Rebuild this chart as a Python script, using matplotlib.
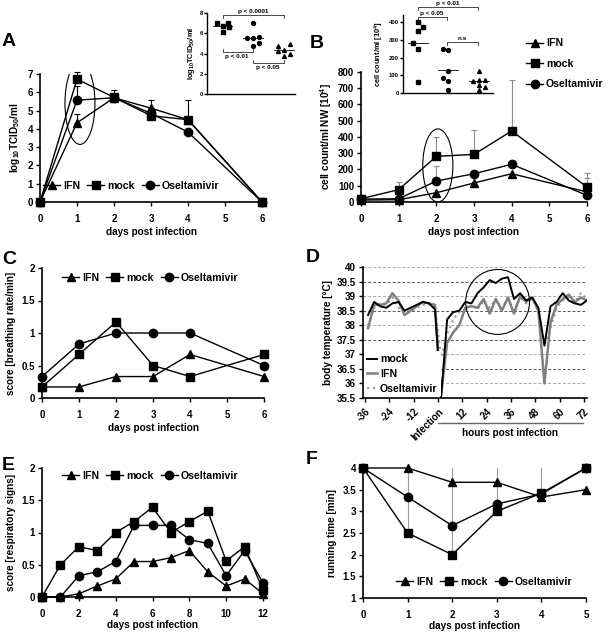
import numpy as np
import matplotlib
matplotlib.use('Agg')
import matplotlib.pyplot as plt
from matplotlib.patches import Ellipse
from matplotlib.lines import Line2D

plt.rcParams['font.family'] = ['Liberation Sans', 'DejaVu Sans']
plt.rcParams['font.weight'] = 'bold'
plt.rcParams['axes.labelweight'] = 'bold'
plt.rcParams['mathtext.fontset'] = 'custom'
plt.rcParams['mathtext.rm'] = 'Liberation Sans:bold'
plt.rcParams['mathtext.default'] = 'rm'

W, H = 608, 632

# ---- A: virus titer ----
days_a = [0, 1, 2, 3, 4, 6]
titer_ifn = [0, 4.33, 5.7, 5.13, 4.5, 0]
titer_mock = [0, 6.72, 5.72, 4.72, 4.5, 0]
titer_osel = [0, 5.57, 5.7, 4.85, 3.82, 0]
err_a_ifn = [0, 0.47, 0, 0.47, 0, 0]
err_a_mock = [0, 0.4, 0.4, 0, 1.07, 0]
err_a_osel = [0, 0.75, 0, 0, 0, 0]

# A inset: day 1 titers per animal
ins_a_mock = [7.0, 6.75, 7.0, 6.1, 6.6]
ins_a_mock_x = [0.33, 0.53, 0.72, 0.53, 0.74]
ins_a_osel = [7.0, 5.5, 5.5, 5.65, 5.0, 4.7]
ins_a_osel_x = [1.58, 1.35, 1.56, 1.78, 1.78, 1.58]
ins_a_ifn = [4.7, 4.97, 4.2, 4.37, 3.72, 3.98]
ins_a_ifn_x = [2.43, 2.83, 2.43, 2.62, 2.62, 2.83]
ins_a_med = [6.75, 5.55, 4.3]

# ---- B: cell counts ----
days_b = [0, 1, 2, 3, 4, 6]
cells_ifn = [12, 14, 57, 117, 174, 62]
cells_mock = [20, 76, 281, 293, 437, 92]
cells_osel = [18, 20, 129, 174, 232, 41]
err_b_ifn = [0, 0, 0, 0, 0, 88]
err_b_mock = [0, 47, 119, 152, 316, 88]
err_b_osel = [0, 0, 91, 0, 0, 0]

ins_b_mock = [400, 352, 372, 282, 248, 60]
ins_b_mock_x = [0.51, 0.51, 0.68, 0.32, 0.51, 0.51]
ins_b_osel = [248, 240, 122, 85, 70, 19]
ins_b_osel_x = [1.32, 1.5, 1.5, 1.32, 1.5, 1.5]
ins_b_ifn = [122, 70, 75, 75, 47, 34, 19]
ins_b_ifn_x = [2.54, 2.34, 2.54, 2.73, 2.54, 2.73, 2.54]
ins_b_med = [282, 130, 66]

# ---- C: breathing score ----
days_c = [0, 1, 2, 3, 4, 6]
breath_ifn = [0.17, 0.17, 0.33, 0.33, 0.67, 0.33]
breath_mock = [0.17, 0.67, 1.17, 0.5, 0.33, 0.67]
breath_osel = [0.33, 0.83, 1.0, 1.0, 1.0, 0.5]

# ---- D: body temperature ----
hours_d = [-34.5, -31.5, -28.5, -25.5, -22.5, -19.5, -16.5, -13.5, -10.5, -7.5,
           -4.5, -1.5, 1.5, 4.5, 7.5, 10.5, 13.5, 16.5, 19.5, 22.5, 25.5, 28.5,
           31.5, 34.5, 37.5, 40.5, 43.5, 46.5, 49.5, 52.5, 55.5, 58.5, 61.5,
           64.5, 67.5, 70.5, 73.5]
temp_mock = [38.35, 38.8, 38.65, 38.6, 38.75, 38.8, 38.5, 38.6, 38.7, 38.8,
             38.75, 38.55, 35.5, 38.2, 38.45, 38.5, 38.8, 38.75, 39.1, 39.3,
             39.55, 39.45, 39.6, 39.65, 38.9, 39.1, 38.85, 38.95, 38.6, 37.3,
             38.65, 38.8, 39.1, 38.85, 38.75, 38.7, 38.85]
temp_ifn = [37.9, 38.7, 38.7, 38.75, 39.1, 38.85, 38.35, 38.5, 38.65, 38.8,
            38.75, 38.7, 35.6, 37.4, 37.75, 38.0, 38.6, 38.65, 38.6, 38.9,
            38.4, 38.9, 38.5, 38.95, 38.4, 39.0, 38.8, 38.95, 38.5, 36.0,
            38.1, 38.7, 38.9, 39.05, 38.8, 38.95, 38.85]
temp_osel = [38.0, 38.6, 38.75, 38.7, 38.95, 38.6, 38.4, 38.45, 38.6, 38.7,
             38.75, 38.6, 36.9, 37.7, 38.2, 38.45, 38.55, 38.7, 38.55, 38.85,
             38.6, 38.9, 38.55, 38.9, 38.5, 38.95, 38.75, 38.9, 38.5, 37.3,
             37.9, 38.6, 38.85, 38.95, 38.8, 39.1, 38.9]
hour_ticks = [-36, -24, -12, 0, 12, 24, 36, 48, 60, 72]
hour_labels = ['-36', '-24', '-12', 'Infection', '12', '24', '36', '48', '60', '72']

# ---- E: respiratory score ----
days_e = list(range(13))
resp_ifn = [0, 0, 0.05, 0.17, 0.28, 0.55, 0.55, 0.61, 0.72, 0.39, 0.17, 0.28, 0.05]
resp_mock = [0, 0.5, 0.78, 0.72, 1.0, 1.17, 1.39, 1.0, 1.17, 1.33, 0.56, 0.78, 0.11]
resp_osel = [0, 0, 0.33, 0.39, 0.55, 1.11, 1.11, 1.11, 0.89, 0.83, 0.33, 0.72, 0.22]

# ---- F: running time ----
days_f = [0, 1, 2, 3, 4, 5]
run_ifn = [4, 4, 3.67, 3.67, 3.33, 3.5]
run_mock = [4, 2.5, 2.0, 3.0, 3.42, 4.0]
run_osel = [4, 3.33, 2.67, 3.17, 3.4, 4.0]
err_f_ifn = [0, 0, 0, 0, 0, 0.5]
err_f_mock = [0, 1.5, 2.1, 1.1, 0.7, 0]

TICK_FS = 7
LAB_FS = 7.2
LEG_FS = 7.6
INS_LAB_FS = 5.4
INS_TXT_FS = 4.6
GRAY = '#8c8c8c'


def px_axes(fig, left, top, right, bottom):
    return fig.add_axes([left / W, 1 - bottom / H, (right - left) / W, (bottom - top) / H])


def style(ax, size=TICK_FS, lw=1.2, xpad=5.5):
    for s in ['top', 'right']:
        ax.spines[s].set_visible(False)
    for s in ['left', 'bottom']:
        ax.spines[s].set_linewidth(lw)
    ax.tick_params(direction='out', length=3, width=1, labelsize=size, pad=2)
    ax.tick_params(axis='x', pad=xpad)


def fmt(v):
    return ('%g' % v)


def three_lines(ax, x, a, b, c, ms=6):
    ax.plot(x, a, marker='^', color='k', lw=1, ms=ms, clip_on=False, zorder=4, label='IFN')
    ax.plot(x, b, marker='s', color='k', lw=1, ms=ms, clip_on=False, zorder=4, label='mock')
    ax.plot(x, c, marker='o', color='k', lw=1, ms=ms, clip_on=False, zorder=4, label='Oseltamivir')


def row_legend(fig, ax, cx, cy):
    h, l = ax.get_legend_handles_labels()
    fig.legend(h, l, loc='center', bbox_to_anchor=(cx / W, 1 - cy / H), ncol=3,
               frameon=False, fontsize=LEG_FS, handlelength=1.6, handletextpad=0.25,
               columnspacing=0.7, borderpad=0)


def panel_letter(fig, x, y, s):
    fig.text(x / W, 1 - y / H, s, fontsize=14, fontweight='bold', ha='left', va='center')


def up_err(ax, x, y, e, color, cap=2):
    for xi, yi, ei in zip(x, y, e):
        if ei > 0:
            ax.errorbar([xi], [yi], yerr=[[0], [ei]], color=color, lw=0.8,
                        capsize=cap, capthick=0.8, zorder=2, clip_on=False)


fig = plt.figure(figsize=(W / 100, H / 100), dpi=100)

# ================= A =================
axa = px_axes(fig, 40, 74, 262, 202)
style(axa)
up_err(axa, days_a, titer_mock, err_a_mock, 'k')
up_err(axa, days_a, titer_ifn, err_a_ifn, 'k')
up_err(axa, days_a, titer_osel, err_a_osel, 'k')
three_lines(axa, days_a, titer_ifn, titer_mock, titer_osel)
axa.set_xlim(0, 6)
axa.set_ylim(0, 7)
axa.set_xticks(range(7))
axa.set_yticks(range(8))
axa.set_xlabel('days post infection', fontsize=LAB_FS, labelpad=2)
axa.set_ylabel('log$_{10}$TCID$_{50}$/ml', fontsize=LAB_FS, labelpad=4)
axa.add_patch(Ellipse((1.08, 5.4), 0.81, 4.5, fill=False, lw=0.8, ec='k'))
row_legend(fig, axa, 131, 186)
panel_letter(fig, 2, 42, 'A')

# inset A
ia = px_axes(fig, 207, 13, 295, 94)
style(ia, size=4.2, lw=1.0, xpad=1)
ia.tick_params(length=2, pad=1)
ia.plot(ins_a_mock_x, ins_a_mock, 's', color='k', ms=2.8)
ia.plot(ins_a_osel_x, ins_a_osel, 'o', color='k', ms=2.8)
ia.plot(ins_a_ifn_x, ins_a_ifn, '^', color='k', ms=2.8)
for cx, m in zip([0.53, 1.57, 2.62], ins_a_med):
    ia.plot([cx - 0.33, cx + 0.33], [m, m], color='k', lw=0.6)
ia.set_xlim(0, 3)
ia.set_ylim(0, 8)
ia.set_xticks([])
ia.set_yticks([0, 2, 4, 6, 8])
ia.set_ylabel('log$_{10}$TCID$_{50}$/ml', fontsize=INS_LAB_FS, labelpad=2)
bk = dict(color='k', lw=0.5, clip_on=False)
ia.plot([0.55, 0.55, 2.62, 2.62], [7.5, 7.8, 7.8, 7.5], **bk)
ia.text(1.58, 7.9, 'p < 0.0001', fontsize=INS_TXT_FS, ha='center', va='bottom')
ia.plot([0.55, 0.55, 1.57, 1.57], [4.45, 4.15, 4.15, 4.45], **bk)
ia.text(1.02, 3.95, 'p < 0.01', fontsize=INS_TXT_FS, ha='center', va='top')
ia.plot([1.57, 1.57, 2.62, 2.62], [3.36, 3.06, 3.06, 3.36], **bk)
ia.text(2.08, 2.85, 'p < 0.05', fontsize=INS_TXT_FS, ha='center', va='top')

# ================= B =================
axb = px_axes(fig, 361, 72, 587, 202)
style(axb)
up_err(axb, days_b, cells_mock, err_b_mock, GRAY)
up_err(axb, days_b, cells_ifn, err_b_ifn, GRAY)
up_err(axb, days_b, cells_osel, err_b_osel, GRAY)
three_lines(axb, days_b, cells_ifn, cells_mock, cells_osel)
axb.set_xlim(0, 6)
axb.set_ylim(0, 800)
axb.set_xticks(range(7))
axb.set_yticks(range(0, 801, 100))
axb.set_xlabel('days post infection', fontsize=LAB_FS, labelpad=2)
axb.set_ylabel('cell count/ml NW [10$^4$]', fontsize=LAB_FS, labelpad=3)
axb.add_patch(Ellipse((2.04, 225), 0.8, 450, fill=False, lw=0.8, ec='k'))
h, l = axb.get_legend_handles_labels()
fig.legend(h, l, loc='upper left', bbox_to_anchor=(521 / W, 1 - 33 / H), ncol=1,
           frameon=False, fontsize=LEG_FS, handlelength=1.6, handletextpad=0.25,
           labelspacing=1.0, borderpad=0)
panel_letter(fig, 310, 44, 'B')

ib = px_axes(fig, 403, 15, 493, 93)
style(ib, size=4.2, lw=1.0, xpad=1)
ib.tick_params(length=2, pad=1)
ib.plot(ins_b_mock_x, ins_b_mock, 's', color='k', ms=2.8, clip_on=False)
ib.plot(ins_b_osel_x, ins_b_osel, 'o', color='k', ms=2.8, clip_on=False)
ib.plot(ins_b_ifn_x, ins_b_ifn, '^', color='k', ms=2.8, clip_on=False)
for cx, m in zip([0.5, 1.5, 2.52], ins_b_med):
    ib.plot([cx - 0.33, cx + 0.33], [m, m], color='k', lw=0.6)
ib.set_xlim(0, 3)
ib.set_ylim(0, 440)
ib.set_xticks([])
ib.set_yticks([0, 100, 200, 300, 400])
ib.set_ylabel('cell count/ml [10$^4$]', fontsize=INS_LAB_FS, labelpad=2)
ib.plot([0.5, 0.5, 2.5, 2.5], [470, 485, 485, 470], **bk)
ib.text(1.5, 489, 'p < 0.01', fontsize=INS_TXT_FS, ha='center', va='bottom')
ib.plot([0.5, 0.5, 1.45, 1.45], [413, 430, 430, 413], **bk)
ib.text(0.97, 434, 'p < 0.05', fontsize=INS_TXT_FS, ha='center', va='bottom')
ib.plot([1.45, 1.45, 2.5, 2.5], [271, 288, 288, 271], **bk)
ib.text(1.97, 292, 'n.s', fontsize=INS_TXT_FS, ha='center', va='bottom')

# ================= C =================
axc = px_axes(fig, 42, 268, 264, 398)
style(axc)
three_lines(axc, days_c, breath_ifn, breath_mock, breath_osel)
axc.set_xlim(0, 6)
axc.set_ylim(0, 2)
axc.set_xticks(range(7))
axc.set_yticks([0, 0.5, 1, 1.5, 2])
axc.set_yticklabels([fmt(v) for v in [0, 0.5, 1, 1.5, 2]])
axc.set_xlabel('days post infection', fontsize=LAB_FS, labelpad=2)
axc.set_ylabel('score [breathing rate/min]', fontsize=LAB_FS, labelpad=4)
row_legend(fig, axc, 150, 278)
panel_letter(fig, 2, 260, 'C')

# ================= D =================
axd = px_axes(fig, 363, 267, 587, 398)
style(axd, xpad=3)
for i, g in enumerate(np.arange(36, 40.01, 0.5)):
    axd.axhline(g, color='#555555' if i % 2 else '#aaaaaa', lw=0.7,
                ls=(0, (3, 2)), zorder=0)
axd.plot(hours_d, temp_osel, color='#a0a0a0', lw=1.6, ls=':', zorder=2, label='Oseltamivir')
axd.plot(hours_d, temp_ifn, color='#808080', lw=1.8, zorder=3, label='IFN')
axd.plot(hours_d, temp_mock, color='k', lw=1.4, zorder=4, label='mock')
axd.set_xlim(-37, 73.5)
axd.set_ylim(35.5, 40)
axd.set_yticks(np.arange(35.5, 40.01, 0.5))
axd.set_yticklabels([fmt(v) for v in np.arange(35.5, 40.01, 0.5)])
axd.set_xticks(hour_ticks)
axd.set_xticklabels(hour_labels, rotation=45, ha='right', rotation_mode='anchor')
axd.set_ylabel('body temperature [°C]', fontsize=LAB_FS, labelpad=3)
axd.add_patch(Ellipse((29.4, 38.8), 31.5, 2.23, fill=False, lw=0.8, ec='k', zorder=5))
hd, ld = axd.get_legend_handles_labels()
legd = axd.legend([hd[2], hd[1], hd[0]], [ld[2], ld[1], ld[0]], loc='lower left',
                  bbox_to_anchor=(0.0, 0.0), frameon=True, fontsize=LEG_FS,
                  handlelength=0.9, handletextpad=0.3, labelspacing=0.45,
                  borderpad=0.3, borderaxespad=0.1, framealpha=1)
legd.get_frame().set_edgecolor('none')
legd.set_zorder(6)
fig.add_artist(Line2D([438 / W, 583 / W], [1 - 423 / H, 1 - 423 / H], color='#666666', lw=1.0))
fig.text(510 / W, 1 - 433 / H, 'hours post infection', fontsize=LAB_FS,
         ha='center', va='center')
panel_letter(fig, 306, 258, 'D')

# ================= E =================
axe = px_axes(fig, 42, 468, 263, 597)
style(axe)
three_lines(axe, days_e, resp_ifn, resp_mock, resp_osel)
axe.set_xlim(0, 12)
axe.set_ylim(0, 2)
axe.set_xticks(range(0, 13, 2))
axe.set_yticks([0, 0.5, 1, 1.5, 2])
axe.set_yticklabels([fmt(v) for v in [0, 0.5, 1, 1.5, 2]])
axe.set_xlabel('days post infection', fontsize=LAB_FS, labelpad=1)
axe.set_ylabel('score [respiratory signs]', fontsize=LAB_FS, labelpad=4)
row_legend(fig, axe, 150, 476)
panel_letter(fig, 2, 465, 'E')

# ================= F =================
axf = px_axes(fig, 363, 468, 586, 598)
style(axf)
for xi, yi, ei in zip(days_f, run_mock, err_f_mock):
    if ei > 0:
        axf.plot([xi, xi], [yi, yi + ei], color='#999999', lw=0.8, zorder=2)
for xi, yi, ei in zip(days_f, run_ifn, err_f_ifn):
    if ei > 0:
        axf.plot([xi, xi], [yi, yi + ei], color='#999999', lw=0.8, zorder=2)
three_lines(axf, days_f, run_ifn, run_mock, run_osel)
axf.set_xlim(0, 5)
axf.set_ylim(1, 4)
axf.set_xticks(range(6))
axf.set_yticks(np.arange(1, 4.01, 0.5))
axf.set_yticklabels([fmt(v) for v in np.arange(1, 4.01, 0.5)])
axf.set_xlabel('days post infection', fontsize=LAB_FS, labelpad=1)
axf.set_ylabel('running time [min]', fontsize=LAB_FS, labelpad=4)
row_legend(fig, axf, 484, 582)
panel_letter(fig, 306, 460, 'F')

fig.savefig('out.png', dpi=100)
